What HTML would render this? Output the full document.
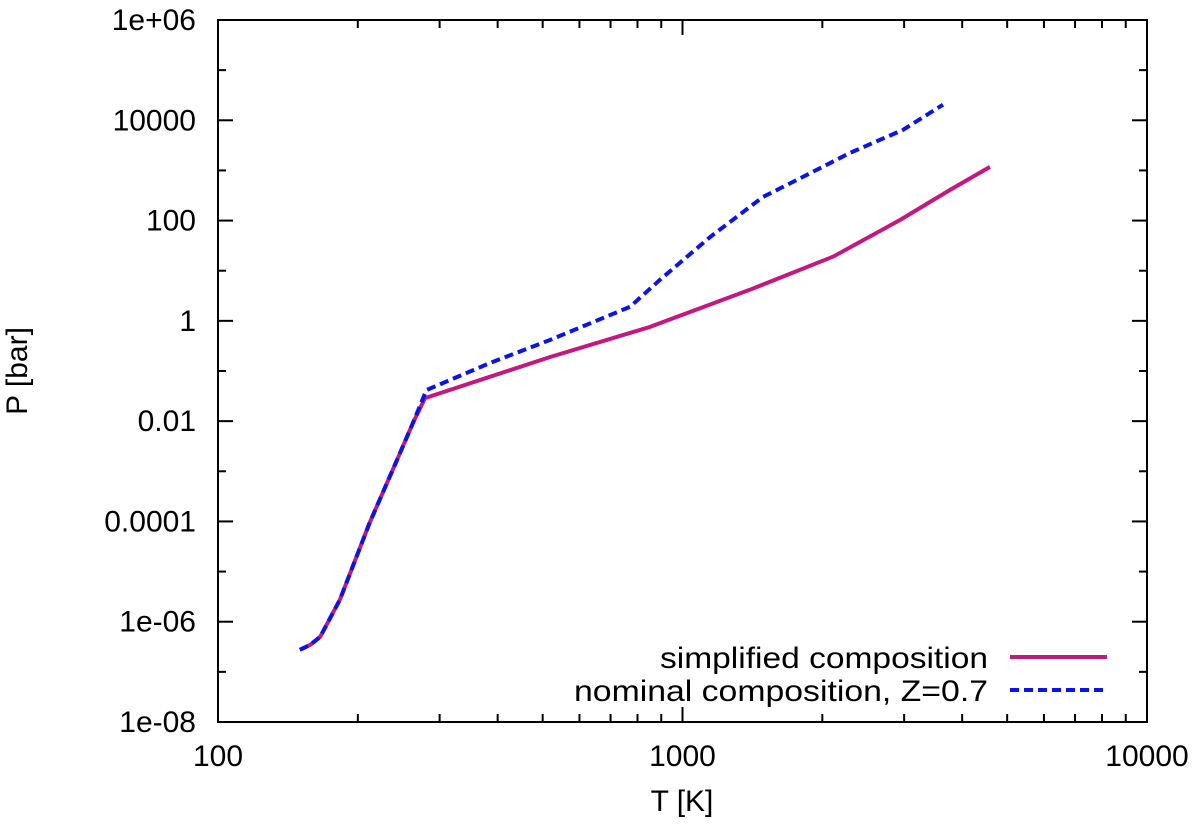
<!DOCTYPE html>
<html><head><meta charset="utf-8"><style>
body{margin:0;background:#fff;}
svg{display:block;font-family:"Liberation Sans",Arial,sans-serif;}
</style></head><body>
<svg id="chart" width="1200" height="830" viewBox="0 0 1200 830" xmlns="http://www.w3.org/2000/svg">
<g id="grid"></g>
<g id="series"></g>
<rect x="218" y="20" width="929" height="702" fill="none" stroke="#000" stroke-width="2"/>
<text x="682" y="811" font-size="30" text-anchor="middle">T [K]</text>
<text x="0" y="0" font-size="30" text-anchor="middle" transform="translate(27,371) rotate(-90)">P [bar]</text>
<g>
<text x="988" y="668" font-size="30" text-anchor="end" textLength="328" lengthAdjust="spacingAndGlyphs">simplified composition</text>
<line x1="1010" y1="657" x2="1107" y2="657" stroke="#c2187f" stroke-width="4"/>
<text x="988" y="701" font-size="30" text-anchor="end" textLength="414" lengthAdjust="spacingAndGlyphs">nominal composition, Z=0.7</text>
<line x1="1010" y1="690" x2="1107" y2="690" stroke="#0a14e8" stroke-width="4" stroke-dasharray="9,5"/>
</g>
</svg>
<script>
const xTicks=[100,1000,10000];
const xTickLabels=["100","1000","10000"];
const yTickExps=[6,4,2,0,-2,-4,-6,-8];
const yTickLabels=["1e+06","10000","100","1","0.01","0.0001","1e-06","1e-08"];
const simplifiedT=[150,158,166,183,212,243,263,279,519,851,1396,2109,2937,3765,4593];
const simplifiedLogP=[-6.56,-6.46,-6.30,-5.56,-4.03,-2.77,-2.03,-1.54,-0.72,-0.12,0.62,1.28,2.01,2.61,3.07];
const nominalT=[150,158,166,183,212,243,263,281,385,519,771,895,1146,1490,1816,2294,2985,3638];
const nominalLogP=[-6.56,-6.46,-6.30,-5.56,-4.03,-2.77,-2.03,-1.38,-0.84,-0.38,0.28,0.82,1.67,2.47,2.87,3.35,3.81,4.31];

const L=218,R=1147,T=20,B=722;
function sx(t){return L+(Math.log10(t)-2)/2*(R-L);}
function sy(lp){return B-(lp+8)/14*(B-T);}
const NS="http://www.w3.org/2000/svg";
const g=document.getElementById('grid'), s=document.getElementById('series');
function el(tag,attrs,parent){const e=document.createElementNS(NS,tag);for(const k in attrs)e.setAttribute(k,attrs[k]);parent.appendChild(e);return e;}
for(let d=2;d<=4;d++){
  for(let m=1;m<=9;m++){
    const v=Math.pow(10,d)*m; if(v>10000||v<100) continue;
    const x=sx(v), len=(m===1)?15:8;
    const a=el('line',{x1:x,y1:B,x2:x,y2:B-len,stroke:'#000','stroke-width':2},g);
    
    
    const b=el('line',{x1:x,y1:T,x2:x,y2:T+len,stroke:'#000','stroke-width':2},g);
    
    
  }
}
xTicks.forEach((v,i)=>{
  const t=el('text',{x:sx(v),y:766,'font-size':30,'text-anchor':'middle'},g);
  t.textContent=xTickLabels[i];
  
  
});
for(let e=-8;e<=6;e++){
  const y=sy(e), len=(e%2===0)?15:8;
  const a=el('line',{x1:L,y1:y,x2:L+len,y2:y,stroke:'#000','stroke-width':2},g);
  
  
  const b=el('line',{x1:R,y1:y,x2:R-len,y2:y,stroke:'#000','stroke-width':2},g);
  
  
}
yTickExps.forEach((e,i)=>{
  const t=el('text',{x:196,y:sy(e)+10,'font-size':30,'text-anchor':'end'},g);
  t.textContent=yTickLabels[i];
  
  
});
function path(ts,ps){
  const pts=ts.map((t,i)=>[sx(t),sy(ps[i])]);
  let d='M'+pts[0][0].toFixed(1)+','+pts[0][1].toFixed(1);
  for(let i=1;i<pts.length;i++) d+=' L'+pts[i][0].toFixed(1)+','+pts[i][1].toFixed(1);
  return d;
}
const p1=el('path',{d:path(simplifiedT,simplifiedLogP),fill:'none',stroke:'#c2187f','stroke-width':4,'stroke-linejoin':'round'},s);


const p2=el('path',{d:path(nominalT,nominalLogP),fill:'none',stroke:'#0a14e8','stroke-width':4,'stroke-dasharray':'9,5','stroke-linejoin':'round'},s);


</script>
</body></html>
